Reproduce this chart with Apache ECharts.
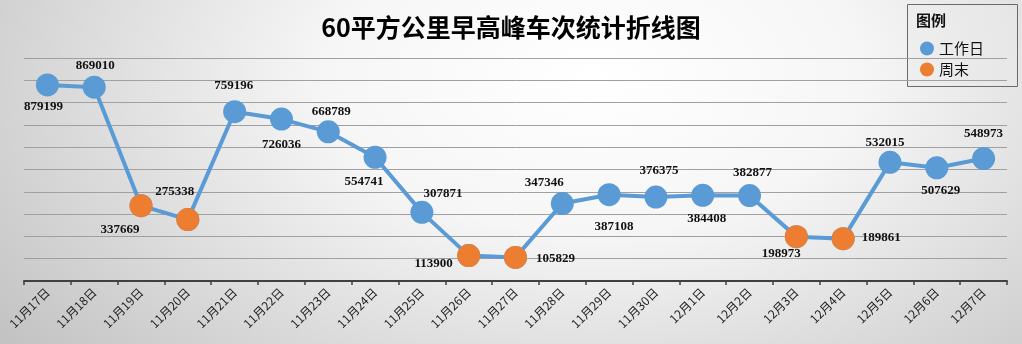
<!DOCTYPE html>
<html>
<head>
<meta charset="utf-8">
<script src="https://cdn.jsdelivr.net/npm/echarts@6/dist/echarts.min.js"></script>
<style>
html,body{margin:0;padding:0;}
#chart{width:1022px;height:344px;background:radial-gradient(ellipse 75% 130% at 58% 22%, #ffffff 0%, #f6f6f6 35%, #d9d9d9 70%, #c0c0c0 100%);}
</style>
</head>
<body>
<div id="chart"></div>
<script>
const categories = ['11月17日','11月18日','11月19日','11月20日','11月21日','11月22日','11月23日','11月24日','11月25日','11月26日','11月27日','11月28日','11月29日','11月30日','12月1日','12月2日','12月3日','12月4日','12月5日','12月6日','12月7日'];
const trips = [879199,869010,337669,275338,759196,726036,668789,554741,307871,113900,105829,347346,387108,376375,384408,382877,198973,189861,532015,507629,548973];
const isWeekend = [false,false,true,true,false,false,false,false,false,true,true,false,false,false,false,false,true,true,false,false,false];
const seriesNames = ['工作日','周末'];
const titleText = '60平方公里早高峰车次统计折线图';
const legendTitle = '图例';
// label offsets (pixels, relative to point centre) — layout only
const labelOffsets = [[-4,22],[1,-22],[-21,24],[-13,-28],[-1,-26],[0,26],[3,-20],[-11,24],[21,-19],[-35,8],[40,1],[-18,-21],[5,32],[3,-26],[4,23],[3,-23],[-15,17],[38,-1],[-5,-20],[4,23],[0,-25]];

const BLUE = '#5b9bd5', ORANGE = '#ed7d31';
const chart = echarts.init(document.getElementById('chart'));
const mainData = trips.map((v,i)=>({
  value: v,
  label: {offset: labelOffsets[i]}
}));
const weekendData = trips.map((v,i)=> isWeekend[i] ? v : '-');

chart.setOption({
  animation: false,
  title: {
    text: titleText, left: 'center', top: 10,
    textStyle: {fontFamily: 'Noto Sans CJK SC', fontSize: 25, fontWeight: 'bold', color: '#000'}
  },
  graphic: [
    {type:'rect', left: 907, top: 4, shape:{width:110, height:82}, style:{fill:'rgba(235,235,235,0.35)', stroke:'#6a6a6a', lineWidth:1}, z: 0},
    {type:'text', left: 916, top: 13, style:{text: legendTitle, font:'bold 15px "Noto Sans CJK SC"', fill:'#111'}, z: 1}
  ],
  legend: {
    orient: 'vertical', left: 915, top: 36, icon: 'circle',
    itemWidth: 14, itemHeight: 14, itemGap: 6,
    textStyle: {fontFamily: 'Noto Sans CJK SC', fontSize: 15, color: '#111'},
    data: seriesNames
  },
  grid: {left: 24, right: 15, top: 58, bottom: 63, containLabel: false},
  xAxis: {
    type: 'category', data: categories, boundaryGap: true,
    axisLine: {lineStyle: {color: '#404040', width: 2}},
    axisTick: {show: true, length: 4, lineStyle: {color: '#404040', width: 1.5}},
    axisLabel: {interval: 0, rotate: 45, margin: 9, fontSize: 12, color: '#222', fontFamily: 'Noto Sans CJK SC'}
  },
  yAxis: {
    type: 'value', min: 0, max: 1000000, interval: 100000,
    axisLabel: {show: false}, axisLine: {show: false}, axisTick: {show: false},
    splitLine: {lineStyle: {color: '#a0a0a0', width: 1}}
  },
  series: [
    {
      name: seriesNames[0], type: 'line', data: mainData,
      symbol: 'circle', symbolSize: 23,
      itemStyle: {color: BLUE},
      lineStyle: {color: BLUE, width: 4},
      label: {show: true, position: 'inside', align: 'center', verticalAlign: 'middle',
        fontFamily: 'Liberation Serif', fontWeight: 'bold', fontSize: 13, color: '#111'},
      z: 2
    },
    {
      name: seriesNames[1], type: 'scatter', data: weekendData,
      symbol: 'circle', symbolSize: 23,
      itemStyle: {color: ORANGE, opacity: 1},
      z: 3
    }
  ]
});
</script>
</body>
</html>
